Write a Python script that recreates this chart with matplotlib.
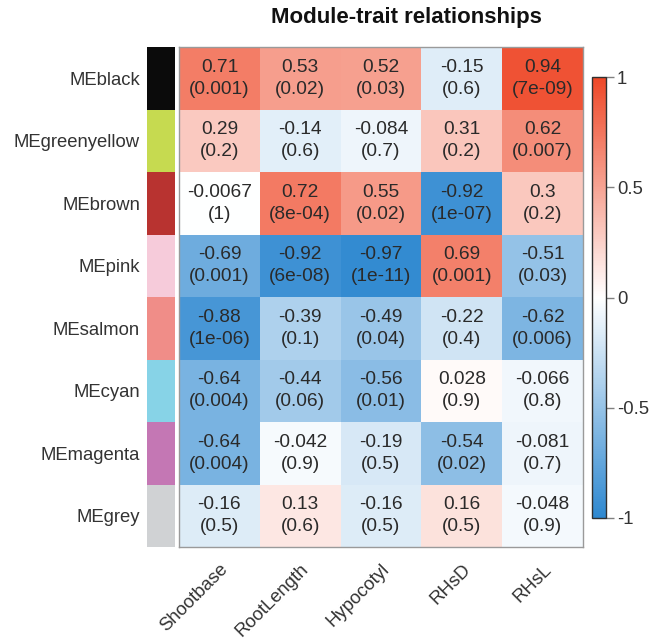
import matplotlib
matplotlib.use("Agg")
import matplotlib.pyplot as plt
import numpy as np
from matplotlib.colors import LinearSegmentedColormap

plt.rcParams["font.family"] = ["Liberation Sans", "DejaVu Sans"]

# ---- Data ----
modules = ["MEblack", "MEgreenyellow", "MEbrown", "MEpink",
           "MEsalmon", "MEcyan", "MEmagenta", "MEgrey"]
module_colors = ["#0B0B0B", "#C6DA50", "#B83330", "#F6CBDA",
                 "#F08D88", "#87D3E7", "#C477B4", "#D0D2D4"]
traits = ["Shootbase", "RootLength", "Hypocotyl", "RHsD", "RHsL"]

cor_black = [0.71, 0.53, 0.52, -0.15, 0.94]
cor_greenyellow = [0.29, -0.14, -0.084, 0.31, 0.62]
cor_brown = [-0.0067, 0.72, 0.55, -0.92, 0.3]
cor_pink = [-0.69, -0.92, -0.97, 0.69, -0.51]
cor_salmon = [-0.88, -0.39, -0.49, -0.22, -0.62]
cor_cyan = [-0.64, -0.44, -0.56, 0.028, -0.066]
cor_magenta = [-0.64, -0.042, -0.19, -0.54, -0.081]
cor_grey = [-0.16, 0.13, -0.16, 0.16, -0.048]

p_black = ["0.001", "0.02", "0.03", "0.6", "7e-09"]
p_greenyellow = ["0.2", "0.6", "0.7", "0.2", "0.007"]
p_brown = ["1", "8e-04", "0.02", "1e-07", "0.2"]
p_pink = ["0.001", "6e-08", "1e-11", "0.001", "0.03"]
p_salmon = ["1e-06", "0.1", "0.04", "0.4", "0.006"]
p_cyan = ["0.004", "0.06", "0.01", "0.9", "0.8"]
p_magenta = ["0.004", "0.9", "0.5", "0.02", "0.7"]
p_grey = ["0.5", "0.6", "0.5", "0.5", "0.9"]

cor = np.array([cor_black, cor_greenyellow, cor_brown, cor_pink,
                cor_salmon, cor_cyan, cor_magenta, cor_grey])
pvals = [p_black, p_greenyellow, p_brown, p_pink,
         p_salmon, p_cyan, p_magenta, p_grey]

cmap = LinearSegmentedColormap.from_list(
    "bwr_soft", ["#2E88D0", "#FFFFFF", "#EE4828"])

text_col = "#2A2A2A"
n_rows, n_cols = cor.shape

# ---- Layout (figure fractions) ----
fig = plt.figure(figsize=(6.5, 6.4), dpi=100)
W, H = 650, 640


def frac(x0, y0, x1, y1):
    return [x0 / W, 1 - y1 / H, (x1 - x0) / W, (y1 - y0) / H]


ax = fig.add_axes(frac(179, 47, 583, 547))
ax_mod = fig.add_axes(frac(147, 47, 175, 547))
cax = fig.add_axes(frac(592, 77, 606, 518))

mesh = ax.pcolormesh(np.arange(n_cols + 1), np.arange(n_rows + 1), cor,
                     cmap=cmap, vmin=-1, vmax=1, edgecolors="none")
ax.set_xlim(0, n_cols)
ax.set_ylim(n_rows, 0)

for r in range(n_rows):
    for c in range(n_cols):
        ax.text(c + 0.5, r + 0.5, f"{cor[r, c]:g}\n({pvals[r][c]})",
                ha="center", va="center", fontsize=13.8,
                color=text_col, linespacing=1.4)

ax.set_yticks([])
ax.set_xticks(np.arange(n_cols) + 0.5)
ax.set_xticklabels(traits, rotation=45, ha="right",
                   rotation_mode="anchor", fontsize=13.3, color="#333333")
ax.tick_params(axis="x", length=0, pad=10)
for s in ax.spines.values():
    s.set_color("#9A9A9A")
    s.set_linewidth(1.0)

# module colour strip with labels
for i, col in enumerate(module_colors):
    ax_mod.axhspan(i, i + 1, color=col, lw=0)
ax_mod.set_ylim(n_rows, 0)
ax_mod.set_xlim(0, 1)
ax_mod.set_xticks([])
ax_mod.set_yticks(np.arange(n_rows) + 0.5)
ax_mod.set_yticklabels(modules, fontsize=13.3, color="#333333")
ax_mod.tick_params(axis="y", length=0, pad=5)
for s in ax_mod.spines.values():
    s.set_visible(False)

# colour bar
cb = fig.colorbar(mesh, cax=cax, ticks=[-1, -0.5, 0, 0.5, 1])
cb.ax.set_yticklabels(["-1", "-0.5", "0", "0.5", "1"])
cb.ax.tick_params(direction="out", length=6, width=1, color="#808080",
                  labelsize=13.3, labelcolor="#333333", pad=2)
cb.outline.set_edgecolor("#303030")
cb.outline.set_linewidth(1.0)

fig.text(406 / W, 1 - 18 / H, "Module-trait relationships",
         ha="center", va="center", fontsize=16, fontweight="bold",
         color="#111111")

fig.savefig("out.png", dpi=100)
